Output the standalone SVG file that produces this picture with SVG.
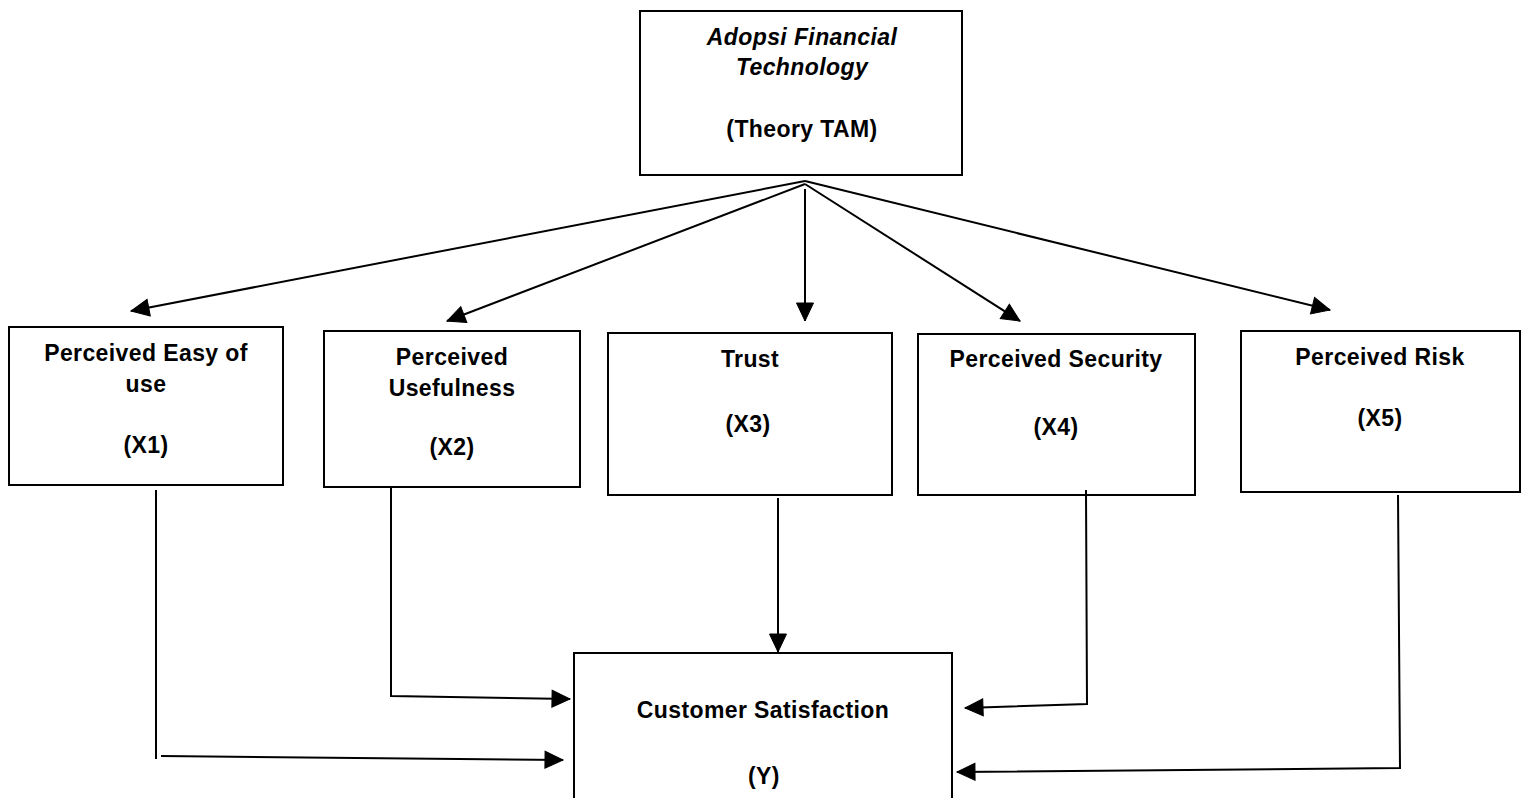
<svg xmlns="http://www.w3.org/2000/svg" width="1523" height="798" viewBox="0 0 1523 798">
<style>
  .box { fill: #ffffff; stroke: #000000; stroke-width: 2; }
  .lbl { font-family: "Liberation Sans", Arial, sans-serif; font-weight: bold; font-size: 23px; letter-spacing: 0.4px; fill: #000000; text-anchor: middle; }
  .it { font-style: italic; }
  .conn { fill: none; stroke: #000000; stroke-width: 2; }
</style>
<defs>
  <marker id="arr" markerUnits="userSpaceOnUse" markerWidth="22" markerHeight="22" refX="18" refY="8.5" orient="auto" overflow="visible">
    <path d="M0,0 L18,8.5 L0,17 z" fill="#000000" stroke="#000000" stroke-width="1"/>
  </marker>
</defs>
<rect width="1523" height="798" fill="#ffffff"/>

<g id="node-tam">
  <rect class="box" x="640" y="11" width="322" height="164"/>
  <text class="lbl it" x="802" y="45">Adopsi Financial</text>
  <text class="lbl it" x="802" y="75">Technology</text>
  <text class="lbl" x="802" y="137">(Theory TAM)</text>
</g>

<g id="node-x1">
  <rect class="box" x="9" y="327" width="274" height="158"/>
  <text class="lbl" x="146" y="361">Perceived Easy of</text>
  <text class="lbl" x="146" y="392">use</text>
  <text class="lbl" x="146" y="453">(X1)</text>
</g>

<g id="node-x2">
  <rect class="box" x="324" y="331" width="256" height="156"/>
  <text class="lbl" x="452" y="365">Perceived</text>
  <text class="lbl" x="452" y="396">Usefulness</text>
  <text class="lbl" x="452" y="455">(X2)</text>
</g>

<g id="node-x3">
  <rect class="box" x="608" y="333" width="284" height="162"/>
  <text class="lbl" x="750" y="367">Trust</text>
  <text class="lbl" x="748" y="432">(X3)</text>
</g>

<g id="node-x4">
  <rect class="box" x="918" y="334" width="277" height="161"/>
  <text class="lbl" x="1056" y="367">Perceived Security</text>
  <text class="lbl" x="1056" y="435">(X4)</text>
</g>

<g id="node-x5">
  <rect class="box" x="1241" y="331" width="279" height="161"/>
  <text class="lbl" x="1380" y="365">Perceived Risk</text>
  <text class="lbl" x="1380" y="426">(X5)</text>
</g>

<g id="node-y">
  <rect class="box" x="574" y="653" width="378" height="160"/>
  <text class="lbl" x="763" y="718">Customer Satisfaction</text>
  <text class="lbl" x="764" y="784">(Y)</text>
</g>

<g id="connectors">
  <line class="conn" x1="805" y1="181" x2="131" y2="311" marker-end="url(#arr)"/>
  <line class="conn" x1="805" y1="184" x2="447" y2="321" marker-end="url(#arr)"/>
  <line class="conn" x1="805" y1="189" x2="805" y2="321" marker-end="url(#arr)"/>
  <line class="conn" x1="805" y1="184" x2="1020" y2="321" marker-end="url(#arr)"/>
  <line class="conn" x1="805" y1="181" x2="1330" y2="310" marker-end="url(#arr)"/>

  <line class="conn" x1="156" y1="490" x2="156" y2="759"/>
  <line class="conn" x1="161" y1="756" x2="563" y2="760" marker-end="url(#arr)"/>
  <polyline class="conn" points="391,487 391,696 570,699" marker-end="url(#arr)"/>
  <line class="conn" x1="778" y1="498" x2="778" y2="652" marker-end="url(#arr)"/>
  <polyline class="conn" points="1086,490 1087,704 965,708" marker-end="url(#arr)"/>
  <polyline class="conn" points="1398,495 1400,768 957,772" marker-end="url(#arr)"/>
</g>
</svg>
